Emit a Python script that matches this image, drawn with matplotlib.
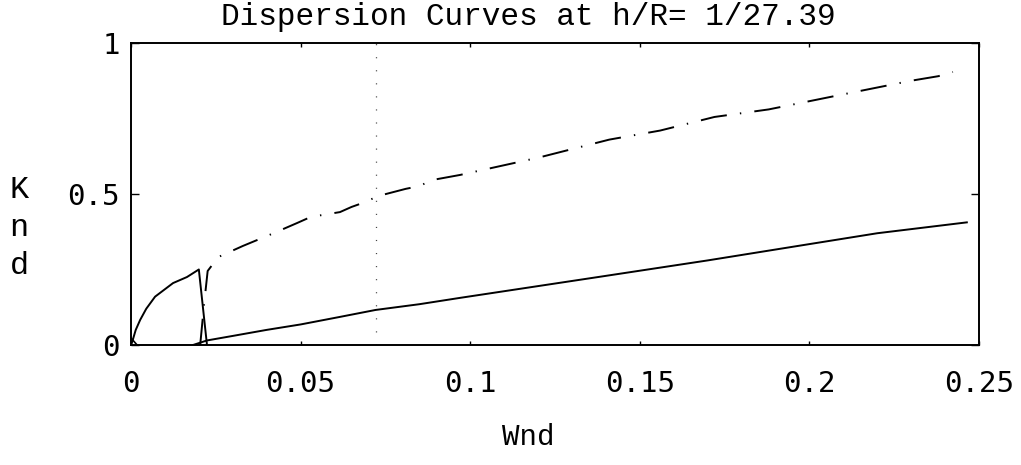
import matplotlib
matplotlib.use("Agg")
import matplotlib.pyplot as plt

plt.rcParams['lines.scale_dashes'] = False

# Upper branch (dash-dot): Wnd vs Knd
upper_w = [0.0204, 0.0215, 0.0226, 0.0257, 0.033, 0.0416, 0.049, 0.053, 0.0616,
           0.065, 0.069, 0.0728, 0.081, 0.085, 0.0887, 0.097, 0.12, 0.141, 0.156,
           0.172, 0.188, 0.21, 0.23, 0.238, 0.2423]
upper_k = [0.0, 0.13, 0.245, 0.291, 0.328, 0.368, 0.404, 0.424, 0.44,
           0.457, 0.473, 0.493, 0.517, 0.526, 0.546, 0.563, 0.62, 0.68, 0.71,
           0.755, 0.78, 0.83, 0.875, 0.89, 0.904]

# Lower branch (solid)
lower_w = [0.0183, 0.0224, 0.03, 0.04, 0.05, 0.0616, 0.0721, 0.085, 0.097,
           0.1383, 0.17, 0.1972, 0.22, 0.2464]
lower_k = [0.0, 0.015, 0.03, 0.05, 0.068, 0.093, 0.116, 0.135, 0.156,
           0.226, 0.28, 0.329, 0.37, 0.406]

# Low-frequency branch rising from the origin and dropping back
low_w = [0.0, 0.0004, 0.0014, 0.0027, 0.0045, 0.0071, 0.0124, 0.0165, 0.020, 0.0224]
low_k = [0.0, 0.012, 0.05, 0.083, 0.12, 0.16, 0.205, 0.225, 0.25, 0.0]

# Short segment at the origin
orig_w = [0.0, 0.0018]
orig_k = [0.023, 0.0]

marker_w = 0.0721

fig = plt.figure(figsize=(10.21, 4.65), dpi=100)
ax = fig.add_axes([0.1283, 0.2581, 0.8306, 0.6495])

ax.plot(upper_w, upper_k, color='black', lw=1.4,
        linestyle=(0, (19, 9.5, 1.0, 9.5)))
ax.plot(lower_w, lower_k, color='black', lw=1.4)
ax.plot(low_w, low_k, color='black', lw=1.4)
ax.plot(orig_w, orig_k, color='black', lw=1.2)
ax.axvline(marker_w, color='#444444', lw=0.9, linestyle=(0, (0.8, 8.6)))

ax.set_xlim(0, 0.25)
ax.set_ylim(0, 1)
ax.set_xticks([0, 0.05, 0.1, 0.15, 0.2, 0.25])
ax.set_xticklabels(['0', '0.05', '0.1', '0.15', '0.2', '0.25'])
ax.set_yticks([0, 0.5, 1])
ax.set_yticklabels(['0', '0.5', '1'])

for lab in ax.get_xticklabels() + ax.get_yticklabels():
    lab.set_fontfamily('DejaVu Sans Mono')
    lab.set_fontsize(21)

ax.tick_params(axis='x', direction='in', length=3, width=1, pad=18, top=True)
ax.tick_params(axis='y', direction='in', length=6, width=1, pad=8, right=True)
for s in ax.spines.values():
    s.set_linewidth(1.4)

fig.text(0.517, 1 - 17 / 465, 'Dispersion Curves at h/R= 1/27.39',
         ha='center', va='center', family='Liberation Mono', fontsize=22.4)
fig.text(528 / 1021, 1 - 437 / 465, 'Wnd', ha='center', va='center',
         family='Liberation Mono', fontsize=21)
fig.text(19 / 1021, 1 - 228 / 465, 'K\nn\nd', ha='center', va='center',
         family='Liberation Mono', fontsize=23, linespacing=1.35)

fig.savefig('out.png', dpi=100)
